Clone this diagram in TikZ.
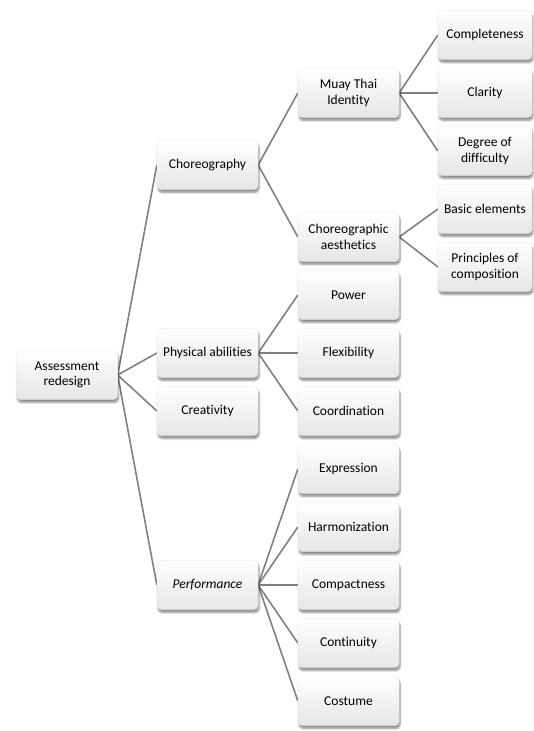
\documentclass[tikz,border=0pt]{standalone}
\usepackage{fontspec}
\setmainfont{Carlito}[Ligatures=NoCommon]
\usetikzlibrary{shadows.blur,backgrounds}
\tikzset{
  box/.style={rectangle, rounded corners=4pt, minimum height=49pt,
    align=center, inner sep=2pt, font=\fontsize{13.5}{15.5}\selectfont,
    top color=white, bottom color=black!10, draw=black!10, line width=0.3pt,
    blur shadow={shadow xshift=1pt, shadow yshift=-3pt, shadow opacity=45, shadow blur steps=6}},
  wide/.style={box, minimum width=101pt},
  narrow/.style={box, minimum width=94pt},
  link/.style={draw=black!50, line width=1.6pt}
}
\begin{document}
\begin{tikzpicture}[x=1pt,y=-1pt]
\useasboundingbox (0,0) rectangle (533,731);
% root
\node[wide] (root) at (67,375) {Assessment\\redesign};
% first level
\node[wide] (chor) at (207.5,165) {Choreography};
\node[wide] (phys) at (207.5,353) {Physical abilities};
\node[wide] (crea) at (207.5,411) {Creativity};
\node[wide] (perf) at (207.5,585) {\itshape Performance};
% second level
\node[wide] (muay) at (348.5,93) {Muay Thai\\Identity};
\node[wide] (aest) at (348.5,237) {Choreographic\\aesthetics};
\node[wide] (powr) at (348.5,295) {Power};
\node[wide] (flex) at (348.5,353) {Flexibility};
\node[wide] (coor) at (348.5,411) {Coordination};
\node[wide] (expr) at (348.5,469) {Expression};
\node[wide] (harm) at (348.5,527) {Harmonization};
\node[wide] (comp) at (348.5,585) {Compactness};
\node[wide] (cont) at (348.5,643) {Continuity};
\node[wide] (cost) at (348.5,701) {Costume};
% third level
\node[narrow] (cplt) at (485,35) {Completeness};
\node[narrow] (clar) at (485,93) {Clarity};
\node[narrow] (degr) at (485,151) {Degree of\\difficulty};
\node[narrow] (basc) at (485,209) {Basic elements};
\node[narrow] (prin) at (485,267) {Principles of\\composition};
% connectors, kept behind the boxes
\begin{pgfonlayer}{background}
\foreach \c in {chor,phys,crea,perf} \draw[link] (root.east) -- (\c.west);
\foreach \c in {muay,aest} \draw[link] (chor.east) -- (\c.west);
\foreach \c in {powr,flex,coor} \draw[link] (phys.east) -- (\c.west);
\foreach \c in {expr,harm,comp,cont,cost} \draw[link] (perf.east) -- (\c.west);
\foreach \c in {cplt,clar,degr} \draw[link] (muay.east) -- (\c.west);
\foreach \c in {basc,prin} \draw[link] (aest.east) -- (\c.west);
\end{pgfonlayer}
\end{tikzpicture}
\end{document}
